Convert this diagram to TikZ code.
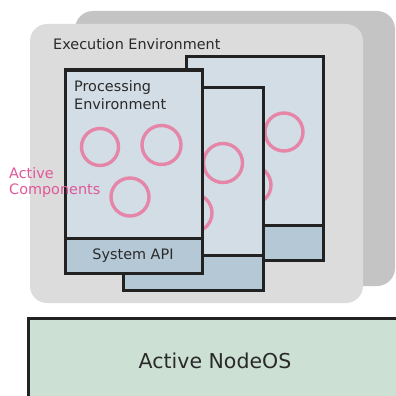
\documentclass[tikz,border=0pt]{standalone}
\usepackage{fontspec}
\setmainfont{DejaVu Sans}
\definecolor{shadowgray}{HTML}{C4C4C4}
\definecolor{envgray}{HTML}{DCDCDC}
\definecolor{panelfill}{HTML}{D3DDE6}
\definecolor{apifill}{HTML}{B5C8D6}
\definecolor{osfill}{HTML}{CCE0D4}
\definecolor{ringpink}{HTML}{E586A8}
\definecolor{labelpink}{HTML}{E0589A}
\definecolor{inkdark}{HTML}{222222}
\definecolor{textdark}{HTML}{2A2A2A}
\tikzset{
  panel/.style={fill=panelfill, draw=inkdark, line width=3pt},
  apistrip/.style={fill=apifill, draw=inkdark, line width=3pt},
  ring/.style={draw=ringpink, line width=3.4pt},
  lbl/.style={text=textdark, inner sep=0pt, font=\fontsize{14.4}{18}\selectfont},
}
\begin{document}
\begin{tikzpicture}[x=1pt,y=-1pt]
  \useasboundingbox (0,0) rectangle (396,396);
  \clip (0,0) rectangle (396,396);
  \fill[white] (0,0) rectangle (396,396);

  % execution environment with its drop shadow
  \fill[shadowgray, rounded corners=18pt] (75,11) rectangle (395,286);
  \fill[envgray, rounded corners=17pt] (30,24) rectangle (363,303);

  % rear processing environment
  \draw[panel] (186,57) rectangle (323,260);
  \draw[ring] (284,132) circle (19);
  \draw[ring] (252,185) circle (19);
  \draw[apistrip] (186,225) rectangle (323,260);

  % middle processing environment
  \draw[panel] (123,87) rectangle (263,290);
  \draw[ring] (223,163) circle (19.5);
  \draw[ring] (193,213) circle (19);
  \draw[apistrip] (123,255) rectangle (263,290);

  % front processing environment
  \draw[panel] (65,70) rectangle (202,273);
  \draw[ring] (100,147) circle (18.5);
  \draw[ring] (161.5,145) circle (19.5);
  \draw[ring] (130,197) circle (19);
  \draw[apistrip] (65,238) rectangle (202,273);

  % node operating system
  \draw[fill=osfill, draw=inkdark, line width=3pt] (28,318) rectangle (410,410);

  % labels
  \node[lbl, anchor=base west] (exec) at (53,49) {Execution Environment};
  \node[lbl, anchor=north west, align=left] (proc) at (74,80) {Processing\\Environment};
  \node[lbl, anchor=north west, align=left, text=labelpink,
        font=\fontsize{14.4}{16.5}\selectfont] (comp) at (9,167) {Active\\Components};
  \node[lbl, anchor=base] (api) at (133,259) {System API};
  \node[lbl, anchor=base, font=\fontsize{20.5}{24}\selectfont] (os) at (215,368) {Active NodeOS};
\end{tikzpicture}
\end{document}
